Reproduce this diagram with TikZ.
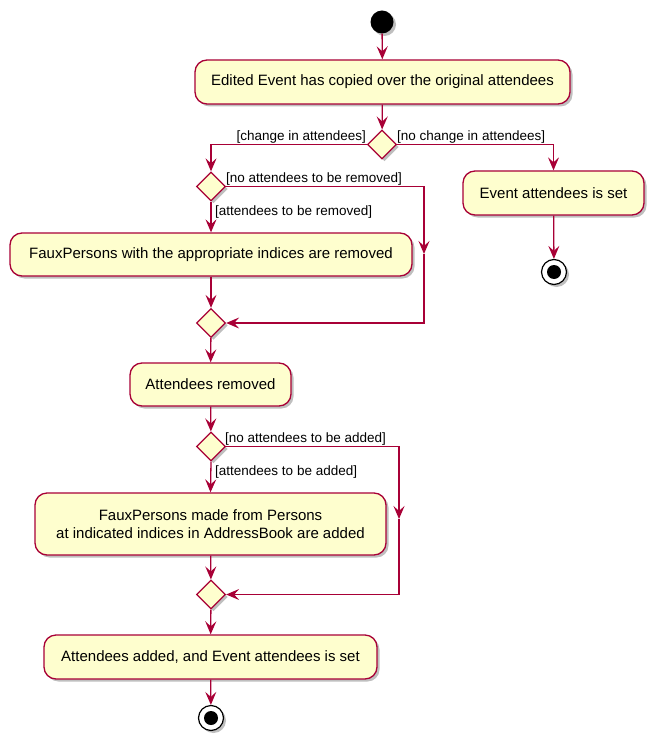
\documentclass[tikz,border=0pt]{standalone}
\usepackage{fontspec}
\setmainfont{Liberation Sans}
\usetikzlibrary{arrows.meta,shapes.geometric,shadows}
\definecolor{pfill}{HTML}{FEFECE}
\definecolor{pline}{HTML}{A80036}
\tikzset{
  shadowed/.style={drop shadow={shadow xshift=2.5pt,shadow yshift=-2.5pt,opacity=0.25,fill=black}},
  act/.style={rectangle,rounded corners=12pt,draw=pline,fill=pfill,line width=1.3pt,
    inner sep=0pt,align=center,font=\fontsize{15}{18}\selectfont,shadowed},
  dec/.style={diamond,draw=pline,fill=pfill,line width=1.3pt,inner sep=0pt,
    minimum width=29pt,minimum height=29pt,shadowed},
  startnode/.style={circle,fill=black,inner sep=0pt,minimum size=23pt,shadowed},
  endnode/.style={circle,draw=black,fill=white,line width=1.2pt,inner sep=0pt,minimum size=25pt,shadowed,
    path picture={\fill[black] (path picture bounding box.center) circle (7pt);}},
  arr/.style={draw=pline,line width=1.3pt,-{Stealth[length=13pt,width=11pt,inset=5pt]}},
  guard/.style={font=\fontsize{13.5}{16}\selectfont,inner sep=0pt}
}
\begin{document}
\begin{tikzpicture}[x=1pt,y=-1pt]
\useasboundingbox (0,0) rectangle (662,743);
\node[startnode] (start) at (382,22) {};
\node[act,minimum width=375pt,minimum height=44pt] (b1) at (382.5,82) {Edited Event has copied over the original attendees};
\node[dec] (d1) at (382,144.5) {};
\node[dec] (d2) at (211,186.5) {};
\node[act,minimum width=181pt,minimum height=44pt] (b6) at (553.5,193) {Event attendees is set};
\node[endnode] (e1) at (554,272) {};
\node[act,minimum width=402pt,minimum height=43pt] (b2) at (211,254.5) {FauxPersons with the appropriate indices are removed};
\node[dec] (d3) at (211,323) {};
\node[act,minimum width=161pt,minimum height=43pt] (b3) at (210.5,384.5) {Attendees removed};
\node[dec] (d4) at (211,446.5) {};
\node[act,minimum width=351pt,minimum height=62pt] (b4) at (210.5,524) {FauxPersons made from Persons\\ at indicated indices in AddressBook are added};
\node[dec] (d5) at (211,594.5) {};
\node[act,minimum width=333pt,minimum height=44pt] (b5) at (210.5,657) {Attendees added, and Event attendees is set};
\node[endnode] (e2) at (211,718) {};
\coordinate (c1) at (424,254);
\coordinate (c2) at (399,519);

\draw[arr] (start) -- (b1);
\draw[arr] (b1) -- (d1);
\draw[arr] (d1.west) -| (d2.north);
\draw[arr] (d1.east) -| (b6.north);
\draw[arr] (b6) -- (e1);
\draw[arr] (d2.south) -- (b2.north);
\draw[arr] (d2.east) -| (c1);
\draw[arr] (c1) |- (d3.east);
\draw[arr] (b2) -- (d3);
\draw[arr] (d3) -- (b3);
\draw[arr] (b3) -- (d4);
\draw[arr] (d4.south) -- (b4.north);
\draw[arr] (d4.east) -| (c2);
\draw[arr] (c2) |- (d5.east);
\draw[arr] (b4) -- (d5);
\draw[arr] (d5) -- (b5);
\draw[arr] (b5) -- (e2);

\node[guard,anchor=east] (g1) at (366,137) {[change in attendees]};
\node[guard,anchor=west] (g2) at (397,137) {[no change in attendees]};
\node[guard,anchor=west] (g3) at (226,179) {[no attendees to be removed]};
\node[guard,anchor=west] (g4) at (215,212) {[attendees to be removed]};
\node[guard,anchor=west] (g5) at (225,439) {[no attendees to be added]};
\node[guard,anchor=west] (g6) at (215,472) {[attendees to be added]};
\end{tikzpicture}
\end{document}
